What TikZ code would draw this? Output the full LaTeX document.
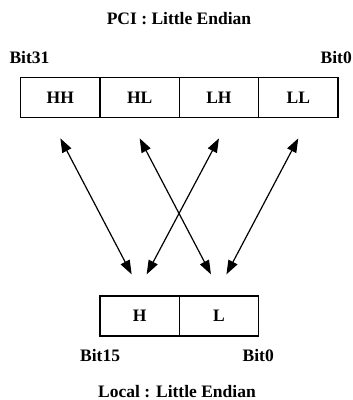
\documentclass[tikz,border=0pt]{standalone}
\usepackage{fontspec}
\setmainfont{Liberation Serif}
\usetikzlibrary{arrows.meta,calc}
\begin{document}
\begin{tikzpicture}[x=1pt,y=-1pt,
  cell/.style={draw,line width=1.3pt,minimum width=79.3pt,minimum height=40pt,inner sep=0pt,font=\fontsize{17.5}{20}\selectfont\bfseries},
  lbl/.style={anchor=base,inner sep=0pt,font=\fontsize{17.5}{20}\selectfont\bfseries},
  dbl/.style={line width=1.2pt,{Triangle[length=14pt,width=10pt]}-{Triangle[length=14pt,width=10pt]}}]
\useasboundingbox (0,0) rectangle (353,400);
\node[lbl] (pci) at (179,24.3) {PCI : Little Endian};
\node[lbl,anchor=base west] (b31) at (9.3,63.3) {Bit31};
\node[lbl,anchor=base east] (b0t) at (352,63.3) {Bit0};
\node[cell] (HH) at (60.35,97.7) {HH};
\node[cell] (HL) at (139.65,97.7) {HL};
\node[cell] (LH) at (218.95,97.7) {LH};
\node[cell] (LL) at (298.25,97.7) {LL};
\node[cell] (H) at (139.65,316) {H};
\node[cell] (L) at (218.95,316) {L};
\node[lbl,anchor=base west] (b15) at (80,361) {Bit15};
\node[lbl,anchor=base east] (b0b) at (274,361) {Bit0};
\node[lbl] (loc) at (177,397.5) {Local : Little Endian};
\coordinate (hh1) at ($(HH.south)+(0,20)$);
\coordinate (hl1) at ($(HL.south)+(0,20)$);
\coordinate (lh1) at ($(LH.south)+(0,20)$);
\coordinate (ll1) at ($(LL.south)+(0,20)$);
\coordinate (h1) at ($(H.north)+(-8,-21)$);
\coordinate (h2) at ($(H.north)+(7,-21)$);
\coordinate (l1) at ($(L.north)+(-8,-21)$);
\coordinate (l2) at ($(L.north)+(7.5,-21)$);
\draw[dbl] (hh1) -- (h1);
\draw[dbl] (hl1) -- (l1);
\draw[dbl] (lh1) -- (h2);
\draw[dbl] (ll1) -- (l2);
\end{tikzpicture}
\end{document}
